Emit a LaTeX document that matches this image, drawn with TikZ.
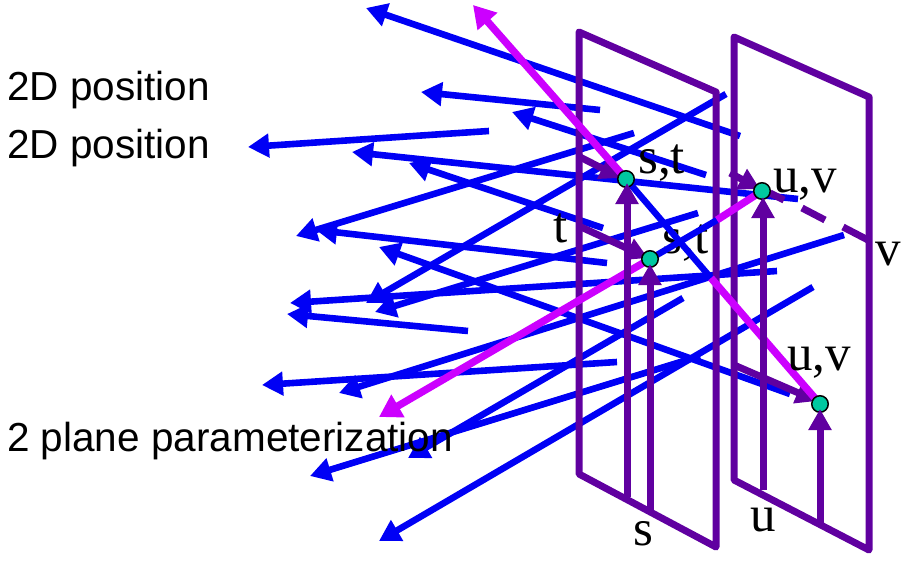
\documentclass[tikz,border=0pt]{standalone}
\usepackage{fontspec}
\setmainfont{Liberation Serif}
\newfontfamily\labelsans{Liberation Sans}
\usetikzlibrary{arrows.meta}
\definecolor{rayblue}{RGB}{0,0,245}
\definecolor{planepurple}{RGB}{96,0,160}
\definecolor{raymagenta}{RGB}{204,0,255}
\definecolor{pointteal}{RGB}{0,200,160}
\tikzset{
  ray/.style={draw=rayblue,line width=6.6pt,-{Triangle[length=21pt,width=23pt]}},
  raypart/.style={draw=rayblue,line width=6.4pt},
  hot/.style={draw=raymagenta,line width=7.4pt,-{Triangle[length=22pt,width=25pt]}},
  hotpart/.style={draw=raymagenta,line width=7.4pt},
  plane/.style={draw=planepurple,line width=7pt,line join=round},
  axis/.style={draw=planepurple,line width=7pt,-{Triangle[length=21pt,width=22pt]}},
  dashpart/.style={draw=planepurple,line width=7pt},
  hit/.style={circle,draw=black,line width=1.5pt,fill=pointteal,minimum size=16.5pt,inner sep=0pt},
  sanslabel/.style={anchor=base west,inner sep=0pt,font=\labelsans\fontsize{40.5}{46}\selectfont},
  seriflabel/.style={anchor=base west,inner sep=0pt,font=\fontsize{51}{58}\selectfont},
}
\begin{document}
\begin{tikzpicture}[x=1pt,y=-1pt]
\useasboundingbox (0,0) rectangle (905,562);
% hit point positions
\coordinate (p1) at (626,179);
\coordinate (p2) at (650,259);
\coordinate (p3) at (762,191);
\coordinate (p4) at (820,404);
\coordinate (mid) at (711,278);
\coordinate (mid2) at (717,220);
% blue rays
\draw[ray] (740,136) -- (366,8);
\draw[ray] (600,110) -- (421,92);
\draw[ray] (706,175) -- (512,112);
\draw[ray] (489,131) -- (248,147);
\draw[ray] (798,199) -- (352,152);
\draw[ray] (603,228) -- (409,163);
\draw[ray] (634,133) -- (296,236);
\draw[ray] (607,263) -- (316,230);
\draw[ray] (790,394) -- (379,247);
\draw[ray] (726,94) -- (366,303);
\draw[ray] (698,213) -- (375,312);
\draw[ray] (777,271) -- (290,303);
\draw[ray] (468,331) -- (287,314);
\draw[ray] (844,235) -- (339,393);
\draw[ray] (617,362) -- (262,385);
\draw[ray] (683,298) -- (408,458);
\draw[ray] (700,356) -- (310,476);
\draw[ray] (813,287) -- (379,541);
% planes
\draw[plane] (579,32) -- (716,92) -- (716,547) -- (579,474) -- cycle;
\draw[plane] (734,37) -- (869,97) -- (869,550) -- (734,480) -- cycle;
% label under the ray
\node[seriflabel] (lst2) at (662,253) {s,t};
% ray pieces between the planes
\draw[raypart] (p1) -- (mid);
\draw[raypart] (p2) -- (mid2);
% purple in-plane arrows
\draw[axis] (578,156) -- (621,178);
\draw[axis] (581,227) -- (648,258);
\draw[axis] (730,173) -- (760,189);
\draw[axis] (734,365) -- (817,401);
\draw[dashpart] (770,193) -- (784,200);
\draw[dashpart] (802,208) -- (825,220);
\draw[dashpart] (843,227) -- (868,240);
% magenta rays
\draw[hot] (p1) -- (473,5);
\draw[hotpart] (p4) -- (mid);
\draw[hotpart] (p3) -- (mid2);
\draw[hot] (p2) -- (379,417);
% hit points
\node[hit] (n1) at (p1) {};
\node[hit] (n2) at (p2) {};
\node[hit] (n3) at (p3) {};
\node[hit] (n4) at (p4) {};
% vertical arrows from the bottom edges
\draw[axis] (627,497) -- (627,183);
\draw[axis] (650,510) -- (650,264);
\draw[axis] (763,490) -- (763,197);
\draw[axis] (820,525) -- (820,409);
% labels
\node[sanslabel] (l1) at (7,100) {2D position};
\node[sanslabel] (l2) at (7,158) {2D position};
\node[sanslabel] (l3) at (7,451) {2 plane parameterization};
\node[seriflabel] (lst1) at (638,173) {s,t};
\node[seriflabel] (luv1) at (773,192) {u,v};
\node[seriflabel] (luv2) at (787,370) {u,v};
\node[seriflabel] (lt) at (553,242) {t};
\node[seriflabel] (lv) at (875,265) {v};
\node[seriflabel] (ls) at (633,545) {s};
\node[seriflabel] (lu) at (750,531) {u};
\end{tikzpicture}
\end{document}
